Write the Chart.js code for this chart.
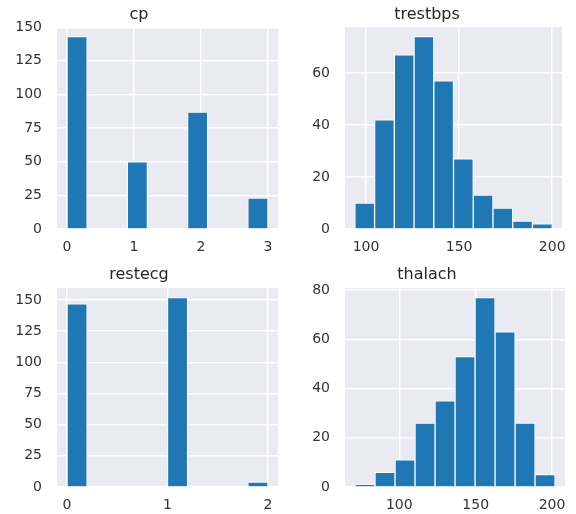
<!DOCTYPE html>
<html lang="en">
<head>
  <meta charset="UTF-8">
  <title>Histogramas</title>
  <script src="https://cdn.jsdelivr.net/npm/chart.js"></script>
  <style>
    body {
      margin: 0;
      background-color: #fff;
      width: 576px;
      height: 514px;
      position: relative;
      overflow: hidden;
    }

    canvas {
      position: absolute;
    }
  </style>
</head>
<body>
  <canvas id="cp" width="288" height="257" style="left:0;top:0"></canvas>
  <canvas id="trestbps" width="288" height="257" style="left:288px;top:0"></canvas>
  <canvas id="restecg" width="288" height="257" style="left:0;top:257px"></canvas>
  <canvas id="thalach" width="288" height="257" style="left:288px;top:257px"></canvas>

  <script>
    // conteos de cada histograma (10 bins)
    const cpCounts = [143, 0, 0, 50, 0, 0, 87, 0, 0, 23];
    const trestbpsCounts = [10, 42, 67, 74, 57, 27, 13, 8, 3, 2];
    const restecgCounts = [147, 0, 0, 0, 0, 152, 0, 0, 0, 4];
    const thalachCounts = [1, 6, 11, 26, 35, 53, 77, 63, 26, 5];

    // rango de los datos (min, max)
    const cpRange = [0, 3];
    const trestbpsRange = [94, 200];
    const restecgRange = [0, 2];
    const thalachRange = [71, 202];

    // etiquetas de los ejes
    const cpXTicks = [0, 1, 2, 3];
    const cpYTicks = [0, 25, 50, 75, 100, 125, 150];
    const trestbpsXTicks = [100, 150, 200];
    const trestbpsYTicks = [0, 20, 40, 60];
    const restecgXTicks = [0, 1, 2];
    const restecgYTicks = [0, 25, 50, 75, 100, 125, 150];
    const thalachXTicks = [100, 150, 200];
    const thalachYTicks = [0, 20, 40, 60, 80];

    const fondo = {
      id: 'fondo',
      beforeDraw(chart) {
        const a = chart.chartArea;
        const ctx = chart.ctx;
        ctx.save();
        ctx.fillStyle = '#eaeaf2';
        ctx.fillRect(a.left, a.top, a.right - a.left, a.bottom - a.top);
        ctx.restore();
      }
    };

    function histograma(id, titulo, counts, range, xTicks, yTicks, fila) {
      const ancho = (range[1] - range[0]) / counts.length;
      const margen = 0.05 * (range[1] - range[0]);
      const datos = counts.map((c, i) => ({ x: range[0] + (i + 0.5) * ancho, y: c }));
      const ymax = Math.max(...counts) * 1.05;

      new Chart(document.getElementById(id), {
        type: 'bar',
        data: {
          datasets: [{
            data: datos,
            backgroundColor: '#1f77b4',
            borderColor: '#ffffff',
            borderWidth: 1,
            barPercentage: 1,
            categoryPercentage: 1
          }]
        },
        plugins: [fondo],
        options: {
          responsive: false,
          animation: false,
          layout: { padding: { left: 0, top: 0, right: 10, bottom: 0 } },
          plugins: {
            legend: { display: false },
            tooltip: { enabled: false },
            title: {
              display: true,
              text: titulo,
              color: '#262626',
              font: { family: 'DejaVu Sans', size: 16, weight: 'normal' },
              padding: fila === 0 ? { top: 5.4, bottom: 2.4 } : { top: 8.4, bottom: 3.4 }
            }
          },
          scales: {
            x: {
              type: 'linear',
              offset: false,
              min: range[0] - margen,
              max: range[1] + margen,
              afterBuildTicks: s => { s.ticks = xTicks.map(v => ({ value: v })); },
              afterFit: s => { s.height = fila === 0 ? 28 : 27; },
              grid: { color: '#ffffff', lineWidth: 1.4, drawTicks: false, offset: false },
              border: { display: false },
              ticks: {
                color: '#333333',
                padding: 10,
                maxRotation: 0,
                font: { family: 'DejaVu Sans', size: 14 },
                callback: v => String(v)
              }
            },
            y: {
              min: 0,
              max: ymax,
              afterBuildTicks: s => { s.ticks = yTicks.map(v => ({ value: v })); },
              afterFit: s => { s.width = 57; },
              grid: { color: '#ffffff', lineWidth: 1.4, drawTicks: false },
              border: { display: false },
              ticks: {
                color: '#333333',
                padding: 15,
                font: { family: 'DejaVu Sans', size: 14 },
                callback: v => String(v)
              }
            }
          }
        }
      });
    }

    histograma('cp', 'cp', cpCounts, cpRange, cpXTicks, cpYTicks, 0);
    histograma('trestbps', 'trestbps', trestbpsCounts, trestbpsRange, trestbpsXTicks, trestbpsYTicks, 0);
    histograma('restecg', 'restecg', restecgCounts, restecgRange, restecgXTicks, restecgYTicks, 1);
    histograma('thalach', 'thalach', thalachCounts, thalachRange, thalachXTicks, thalachYTicks, 1);
  </script>
</body>
</html>
